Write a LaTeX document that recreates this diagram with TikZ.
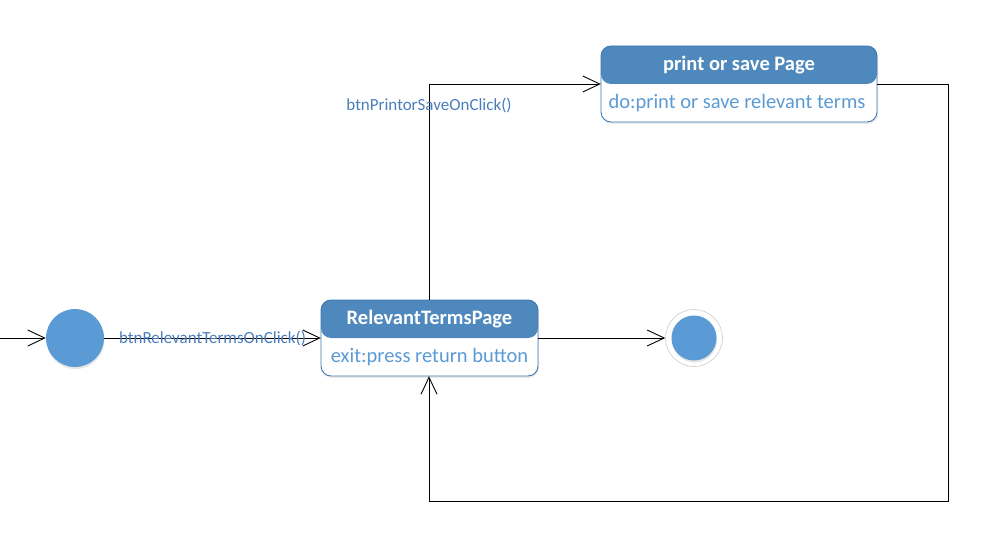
\documentclass[tikz,border=0pt]{standalone}
\usepackage{fontspec}
\setmainfont{Carlito}
\usetikzlibrary{arrows.meta,shadows}
\definecolor{hdr}{HTML}{4E88BC}
\definecolor{brd}{HTML}{3E78B0}
\definecolor{txt}{HTML}{5B9BD5}
\definecolor{lbl}{HTML}{4A7EBB}
\definecolor{dot}{HTML}{5B9BD5}
\begin{document}
\begin{tikzpicture}[x=1pt,y=-1pt,
  conn/.style={draw=black,line width=0.9pt,-{Straight Barb[length=17pt,width=16pt,line width=0.9pt]}},
  lab/.style={text=lbl,font=\fontsize{17}{20}\selectfont,inner sep=0pt},
  hdrtext/.style={text=white,font=\bfseries\fontsize{20.5}{24}\selectfont},
  bodytext/.style={text=txt,font=\fontsize{20.5}{24}\selectfont}]
\useasboundingbox (0,0) rectangle (982,559);
% initial state
\node[circle,fill=dot,minimum size=58pt,inner sep=0pt,drop shadow={opacity=0.2,shadow xshift=0.5pt,shadow yshift=-2pt}] (init) at (75,338) {};
\coordinate (src) at (0,338);
% RelevantTermsPage
\fill[black!20,opacity=0.4,rounded corners=10pt] (322,302) rectangle (539,378);
\fill[white,rounded corners=10pt] (321,300) rectangle (538,376);
\fill[hdr,rounded corners=10pt] (321,338) -- (321,300) -- (538,300) -- (538,338) -- cycle;
\draw[brd,line width=0.9pt,rounded corners=10pt] (321,300) rectangle (538,376);
\node[inner sep=0pt,minimum width=217pt,minimum height=76pt] (rtp) at (429.5,338) {};
\node[hdrtext] (rtph) at (429.5,319) {RelevantTermsPage};
\node[bodytext] (rtpb) at (429.5,357) {exit:press return button};
% print or save page
\fill[black!20,opacity=0.4,rounded corners=10pt] (602,48) rectangle (878,124);
\fill[white,rounded corners=10pt] (601,46) rectangle (877,122);
\fill[hdr,rounded corners=10pt] (601,84) -- (601,46) -- (877,46) -- (877,84) -- cycle;
\draw[brd,line width=0.9pt,rounded corners=10pt] (601,46) rectangle (877,122);
\node[inner sep=0pt,minimum width=276pt,minimum height=76pt] (psp) at (739,84) {};
\node[hdrtext] (psph) at (739,65) {print or save Page};
\node[bodytext] (pspb) at (737,103) {do:print or save relevant terms};
% final state
\node[circle,draw=black!20,fill=white,line width=0.6pt,minimum size=57pt,inner sep=0pt] (fin) at (694,338) {};
\node[circle,fill=dot,minimum size=45pt,inner sep=0pt,drop shadow={opacity=0.2,shadow xshift=0.5pt,shadow yshift=-2pt}] (fin2) at (694,338) {};
% connectors
\draw[conn] (src) -- (init.west);
\draw[conn] (init.east) -- (rtp.west);
\node[lab] (l1) at (212.5,338) {btnRelevantTermsOnClick()};
\draw[conn] (rtp.east) -- (fin.west);
\coordinate (c1) at (429,84);
\draw[conn] (rtp.north -| c1) -- (c1) -- (psp.west);
\node[lab] (l2) at (429,105) {btnPrintorSaveOnClick()};
\coordinate (c2) at (948,84);
\coordinate (c3) at (948,501);
\coordinate (c4) at (429,501);
\draw[conn] (psp.east) -- (c2) -- (c3) -- (c4) -- (rtp.south -| c4);
\end{tikzpicture}
\end{document}
